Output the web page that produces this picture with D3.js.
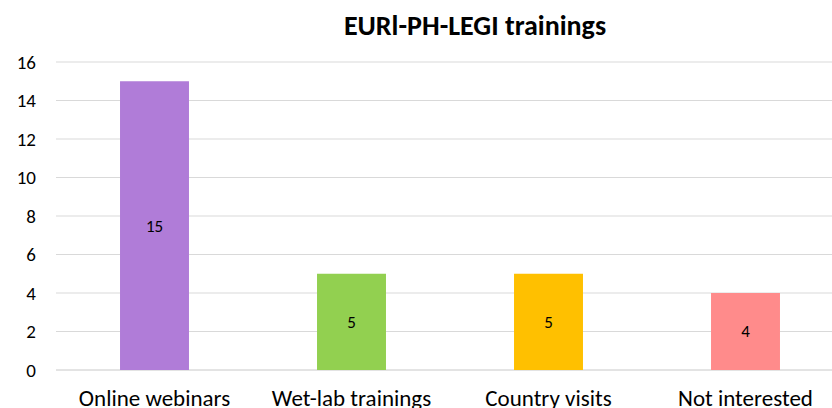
<!DOCTYPE html>
<html><head><meta charset="utf-8">
<script src="https://cdn.jsdelivr.net/npm/d3@7"></script>
<style>body{margin:0;background:#fff}svg{display:block}</style>
</head><body>
<svg id="c" width="832" height="408"></svg>
<script>
const categories = ["Online webinars", "Wet-lab trainings", "Country visits", "Not interested"];
const values = [15, 5, 5, 4];
const colors = ["#B07CD8", "#92D050", "#FFC000", "#FF8B8B"];
const yTicks = [0, 2, 4, 6, 8, 10, 12, 14, 16];
const title = "EURl-PH-LEGI trainings";

const font = "Carlito, Calibri, Lato, sans-serif";
const svg = d3.select("#c");
const x = d3.scaleBand().domain(categories).range([56, 844]).paddingInner(0.65).paddingOuter(0.325);
const y = d3.scaleLinear().domain([0, 16]).range([370, 62]);

svg.append("g").selectAll("line").data(yTicks.filter(d => d > 0)).join("line")
  .attr("x1", 56).attr("x2", 832).attr("y1", d => y(d)).attr("y2", d => y(d))
  .attr("stroke", "#d9d9d9").attr("stroke-width", 1);
svg.append("line").attr("x1", 56).attr("x2", 832).attr("y1", y(0)).attr("y2", y(0))
  .attr("stroke", "#c8c8c8").attr("stroke-width", 1);

svg.append("g").selectAll("text").data(yTicks).join("text")
  .attr("x", 36).attr("y", d => y(d)).attr("dy", "0.35em").attr("text-anchor", "end")
  .attr("font-family", font).attr("font-size", 19).attr("fill", "#000").text(d => d);

svg.append("g").selectAll("rect").data(values).join("rect")
  .attr("x", (d, i) => x(categories[i])).attr("width", x.bandwidth())
  .attr("y", d => y(d)).attr("height", d => y(0) - y(d))
  .attr("fill", (d, i) => colors[i]);

svg.append("g").selectAll("text").data(values).join("text")
  .attr("x", (d, i) => x(categories[i]) + x.bandwidth() / 2)
  .attr("y", d => (y(d) + y(0)) / 2).attr("dy", "0.35em").attr("text-anchor", "middle")
  .attr("font-family", font).attr("font-size", 17).attr("fill", "#000").text(d => d);

svg.append("g").selectAll("text").data(categories).join("text")
  .attr("x", d => x(d) + x.bandwidth() / 2).attr("y", 406)
  .attr("text-anchor", "middle").attr("font-family", font).attr("font-size", 23)
  .attr("fill", "#000").text(d => d);

svg.append("text").attr("x", 475).attr("y", 35).attr("text-anchor", "middle")
  .attr("font-family", font).attr("font-size", 28).attr("font-weight", "bold").attr("fill", "#000").text(title);
</script>
</body></html>
